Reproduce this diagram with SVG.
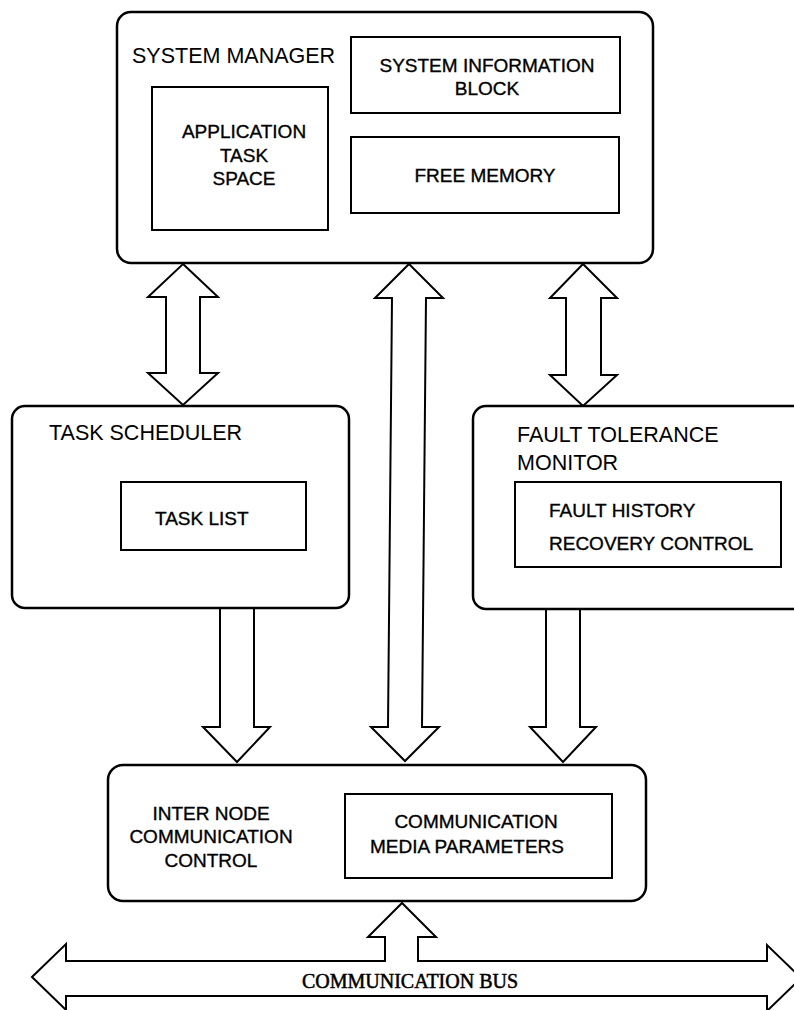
<svg xmlns="http://www.w3.org/2000/svg" width="794" height="1010" viewBox="0 0 794 1010">
<style>
.outer{fill:#fff;stroke:#000;stroke-width:2.5}
.inner{fill:#fff;stroke:#000;stroke-width:2}
.arr{fill:#fff;stroke:#000;stroke-width:2;stroke-linejoin:miter}
text{font-family:"Liberation Sans",Arial,sans-serif;fill:#000}
.t{font-size:21.5px}
.s{font-size:19px;stroke:#000;stroke-width:0.35}
.bus{font-family:"Liberation Serif","Times New Roman",serif;font-size:20px;stroke:#000;stroke-width:0.5}
</style>
<rect width="794" height="1010" fill="#fff"/>
<g id="connectors">
<polygon class="arr" points="183,264 218,297 200,297 200,373 218,373 183,405 148,373 166,373 166,297 148,297"/>
<polygon class="arr" points="409,264 443,298 426,298 422,727 439,727 405,761 371,727 388,727 392,298 375,298"/>
<polygon class="arr" points="583,264 617,298 601,298 601,375 617,375 583,406 550,375 566,375 566,298 550,298"/>
<polygon class="arr" points="220,608 254,608 254,727 270,727 237,762 203,727 220,727"/>
<polygon class="arr" points="546,609 580,609 580,727 596,727 563,762 530,727 546,727"/>
<polygon id="bus" class="arr" points="32,977 66,944 66,961 385,961 385,937 368,937 402,903 436,937 418,937 418,961 767,961 767,945 801,978 767,1011 767,996 66,996 66,1010"/>
</g>
<g id="system-manager">
<rect class="outer" x="117" y="12" width="536" height="251" rx="14"/>
<text class="t" x="132" y="63">SYSTEM MANAGER</text>
</g>
<g id="application-task-space">
<rect class="inner" x="152" y="87" width="176" height="143"/>
<text class="s" text-anchor="middle" x="244" y="138">APPLICATION</text>
<text class="s" text-anchor="middle" x="244" y="162">TASK</text>
<text class="s" text-anchor="middle" x="244" y="185">SPACE</text>
</g>
<g id="system-information-block">
<rect class="inner" x="351" y="37" width="269" height="76"/>
<text class="s" text-anchor="middle" x="487" y="72" font-size="18.5">SYSTEM INFORMATION</text>
<text class="s" text-anchor="middle" x="487" y="95">BLOCK</text>
</g>
<g id="free-memory">
<rect class="inner" x="351" y="137" width="268" height="76"/>
<text class="s" text-anchor="middle" x="485" y="182">FREE MEMORY</text>
</g>
<g id="task-scheduler">
<rect class="outer" x="12" y="406" width="337" height="202" rx="13"/>
<text class="t" x="49" y="440">TASK SCHEDULER</text>
</g>
<g id="task-list">
<rect class="inner" x="121" y="482" width="185" height="68"/>
<text class="s" x="155" y="525">TASK LIST</text>
</g>
<g id="fault-tolerance-monitor">
<rect class="outer" x="473" y="406" width="345" height="203" rx="13"/>
<text class="t" x="517" y="442">FAULT TOLERANCE</text>
<text class="t" x="517" y="470">MONITOR</text>
</g>
<g id="fault-history">
<rect class="inner" x="515" y="482" width="266" height="85"/>
<text class="s" x="549" y="517">FAULT HISTORY</text>
<text class="s" x="549" y="550">RECOVERY CONTROL</text>
</g>
<g id="inter-node-communication-control">
<rect class="outer" x="108" y="765" width="538" height="136" rx="15"/>
<text class="s" text-anchor="middle" x="211" y="820" font-size="20">INTER NODE</text>
<text class="s" text-anchor="middle" x="211" y="843" font-size="20">COMMUNICATION</text>
<text class="s" text-anchor="middle" x="211" y="867" font-size="20">CONTROL</text>
</g>
<g id="communication-media-parameters">
<rect class="inner" x="345" y="794" width="267" height="84"/>
<text class="s" text-anchor="middle" x="476" y="828" font-size="20">COMMUNICATION</text>
<text class="s" text-anchor="middle" x="467" y="853" font-size="20">MEDIA PARAMETERS</text>
</g>
<g id="communication-bus">
<text class="bus" text-anchor="middle" x="410" y="988">COMMUNICATION BUS</text>
</g>
</svg>
